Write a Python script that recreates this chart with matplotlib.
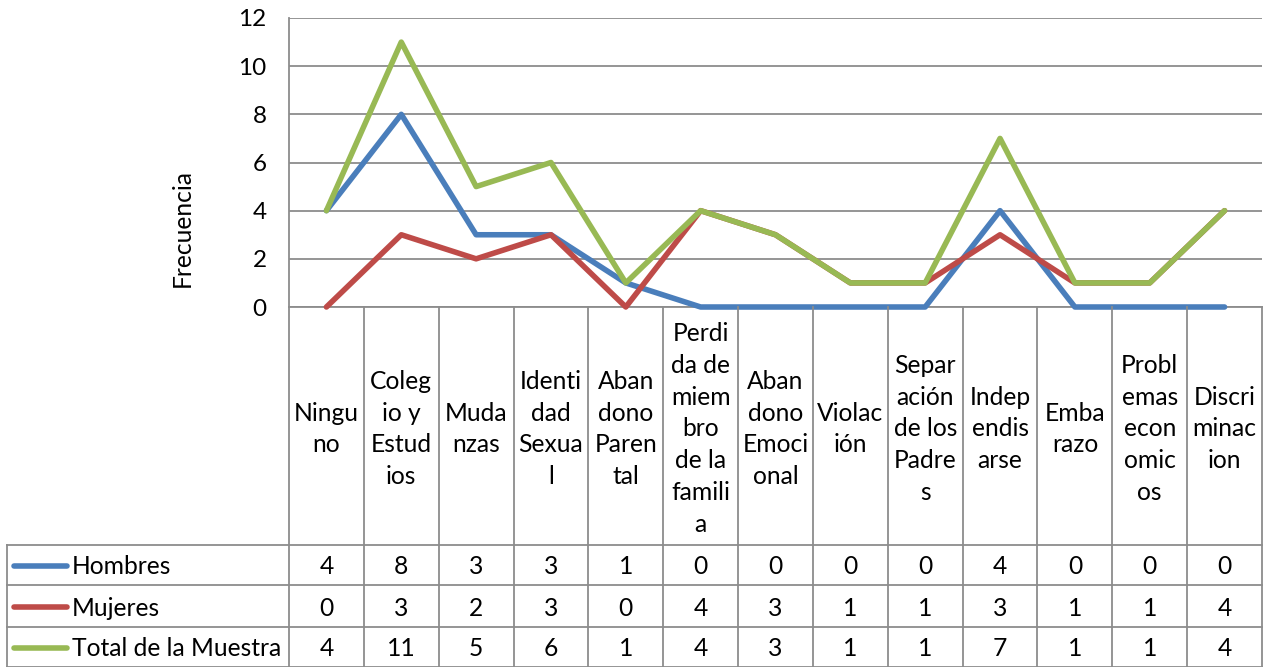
import matplotlib.pyplot as plt
from matplotlib.lines import Line2D
from matplotlib.transforms import blended_transform_factory

plt.rcParams['font.family'] = ['Lato', 'DejaVu Sans']

# categories as wrapped in the original data table
categories = [
    "Ningu\nno", "Coleg\nio y\nEstud\nios", "Muda\nnzas", "Identi\ndad\nSexua\nl",
    "Aban\ndono\nParen\ntal", "Perdi\nda de\nmiem\nbro\nde la\nfamili\na",
    "Aban\ndono\nEmoci\nonal", "Violac\nión", "Separ\nación\nde los\nPadre\ns",
    "Indep\nendis\narse", "Emba\nrazo", "Probl\nemas\necon\nomic\nos",
    "Discri\nminac\nion",
]
hombres = [4, 8, 3, 3, 1, 0, 0, 0, 0, 4, 0, 0, 0]
mujeres = [0, 3, 2, 3, 0, 4, 3, 1, 1, 3, 1, 1, 4]
total = [4, 11, 5, 6, 1, 4, 3, 1, 1, 7, 1, 1, 4]
series_names = ["Hombres", "Mujeres", "Total de la Muestra"]
colors = ["#4A7EBB", "#BE4B48", "#98B954"]
y_ticks = [0, 2, 4, 6, 8, 10, 12]

W, H = 1269, 667
GRID = "#8C8C8C"
FS = 17.7
LW = 4.0


def fx(px):
    return px / W


def fy(py):
    return 1 - py / H


fig = plt.figure(figsize=(W / 100, H / 100), dpi=100)
ax = fig.add_axes([fx(289), fy(307), fx(1262) - fx(289), fy(18) - fy(307)])

xs = list(range(len(categories)))
for vals, c in zip([hombres, mujeres, total], colors):
    ax.plot(xs, vals, color=c, lw=LW, solid_capstyle='round',
            solid_joinstyle='round', clip_on=False, zorder=3)

ax.set_xlim(-0.5, len(categories) - 0.5)
ax.set_ylim(0, 12)
ax.set_yticks(y_ticks)
ax.set_xticks([])
ax.grid(axis='y', color=GRID, lw=1.3)
ax.set_axisbelow(True)
for s in ['top', 'right']:
    ax.spines[s].set_visible(False)
for s in ['left', 'bottom']:
    ax.spines[s].set_color(GRID)
    ax.spines[s].set_linewidth(1.3)
ax.tick_params(axis='y', length=0, pad=16, labelsize=17.5)

fig.text(fx(182), fy(228), "Frecuencia", rotation=90, ha='center', va='center', fontsize=FS)

# data table
tr = blended_transform_factory(ax.transData, fig.transFigure)
for k in range(len(categories) + 1):
    fig.add_artist(Line2D([k - 0.5, k - 0.5], [fy(307), fy(667)], transform=tr,
                          color=GRID, lw=1.3))
for py in [545, 585, 627, 666.5]:
    fig.add_artist(Line2D([fx(7), fx(1262)], [fy(py), fy(py)], color=GRID, lw=1.3))
fig.add_artist(Line2D([fx(7), fx(7)], [fy(545), fy(667)], color=GRID, lw=1.3))

for k, lab in enumerate(categories):
    ax.text(k, fy(429), lab, transform=tr, ha='center', va='center',
            fontsize=FS, linespacing=1.47)

row_centers = [567, 608, 649]
for vals, rc, name, c in zip([hombres, mujeres, total], row_centers, series_names, colors):
    for k, v in enumerate(vals):
        ax.text(k, fy(rc), str(v), transform=tr, ha='center', va='center', fontsize=FS)
    fig.add_artist(Line2D([fx(14), fx(67)], [fy(rc - 1), fy(rc - 1)], color=c, lw=LW,
                          solid_capstyle='round'))
    fig.text(fx(72), fy(rc), name, ha='left', va='center', fontsize=FS)

fig.savefig("out.png", dpi=100)
